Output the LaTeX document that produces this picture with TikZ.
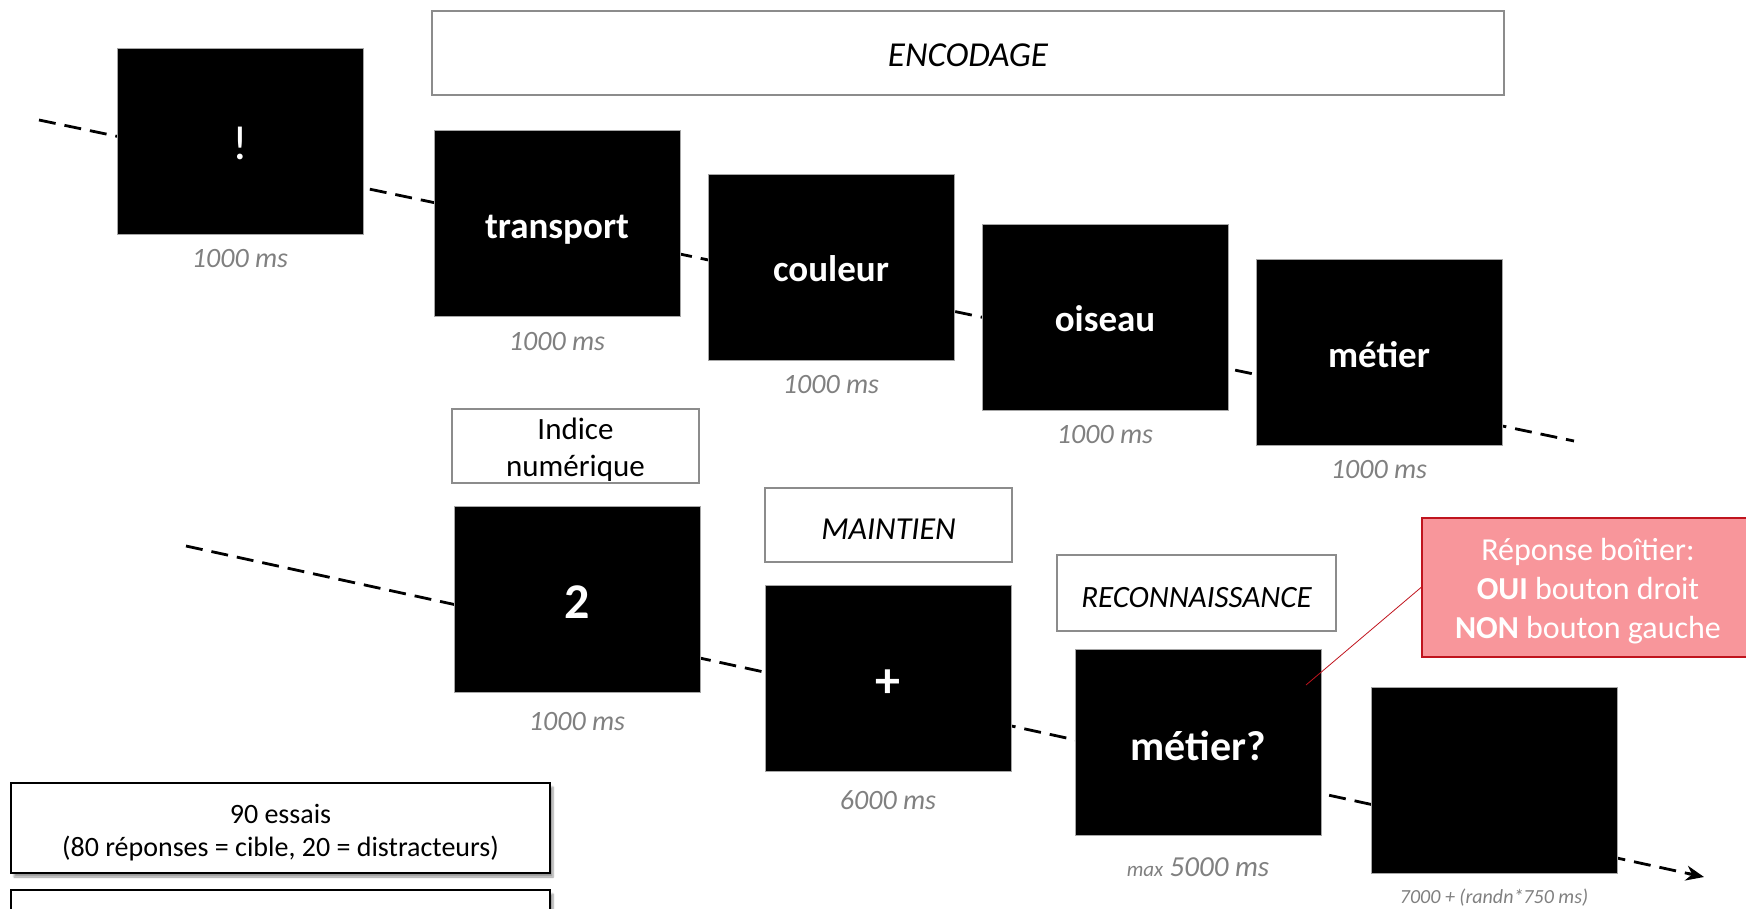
\documentclass[tikz,border=0pt]{standalone}
\usepackage{fontspec}
\setmainfont{Carlito}
\usetikzlibrary{arrows.meta,shadows.blur,calc}
\definecolor{tgray}{RGB}{128,128,128}
\definecolor{lblgray}{RGB}{140,140,140}
\definecolor{redfill}{RGB}{248,150,155}
\definecolor{redline}{RGB}{192,20,30}
\begin{document}
\begin{tikzpicture}[x=1pt,y=-1pt,
 screen/.style={rectangle, fill=black, draw=gray!70, line width=0.8pt, minimum width=246pt, minimum height=186pt, inner sep=0pt, text=white, text height=30pt, text depth=0pt, font=\fontsize{37}{44}\selectfont\bfseries},
 bigsym/.style={text height=38pt, text depth=0pt},
 timelbl/.style={anchor=north, text=tgray, font=\fontsize{28}{34}\selectfont\itshape, inner sep=0pt, yshift=-15pt},
 phase/.style={rectangle, draw=lblgray, line width=1.6pt, fill=white, inner sep=0pt, text height=28pt, text depth=0pt, font=\fontsize{32}{38}\selectfont\itshape},
 timeline/.style={line width=2.8pt, dash pattern=on 17pt off 9pt},
 infobox/.style={rectangle, draw=black, line width=1.8pt, fill=white, inner sep=0pt, blur shadow={shadow xshift=3pt, shadow yshift=-4pt, shadow blur steps=6}},
 boxtext/.style={inner sep=0pt, align=center},
]
\useasboundingbox (0,0) rectangle (1746,909);

% timelines
\coordinate (t1s) at (39,120);
\coordinate (t1e) at (1574,441);
\coordinate (t2s) at (186,546);
\coordinate (t2e) at (1704,877);
\draw[timeline] (t1s) -- (t1e);
\draw[timeline] (t2s) -- ($(t2e)!14pt!(t2s)$);
\draw[line width=2.8pt, -{Stealth[length=18pt,width=15pt]}] ($(t2e)!16pt!(t2s)$) -- (t2e);

% top row screens
\node[screen, font=\fontsize{48}{56}\selectfont, text height=37pt] (excl) at (240,141) {!};
\node[screen] (transport) at (557,223.5) {transport};
\node[screen] (couleur) at (831,267) {couleur};
\node[screen] (oiseau) at (1105,317) {oiseau};
\node[screen] (metier) at (1379,352) {métier};

\node[timelbl] (l1) at (excl.south) {1000 ms};
\node[timelbl] (l2) at (transport.south) {1000 ms};
\node[timelbl] (l3) at (couleur.south) {1000 ms};
\node[timelbl] (l4) at (oiseau.south) {1000 ms};
\node[timelbl] (l5) at (metier.south) {1000 ms};

% bottom row screens
\node[screen, font=\fontsize{50}{58}\selectfont\bfseries, bigsym] (deux) at (577,599) {2};
\node[screen, font=\fontsize{50}{58}\selectfont\bfseries, bigsym] (plus) at (888,678.5) {+};
\node[screen, font=\fontsize{42}{50}\selectfont\bfseries, text height=35pt] (metierq) at (1198,742.5) {métier?};
\node[screen] (blank) at (1494,780.5) {};

\node[timelbl, yshift=-5pt] (l6) at (deux.south) {1000 ms};
\node[timelbl, yshift=-3pt] (l7) at (plus.south) {6000 ms};
\node[timelbl, yshift=-7pt] (l8) at (metierq.south) {{\fontsize{21}{25}\selectfont max} {\fontsize{29}{34}\selectfont 5000 ms}};
\node[timelbl, font=\fontsize{20}{24}\selectfont\itshape] (l9) at (blank.south) {7000 + (randn*750 ms)};

% phase labels
\node[phase, minimum width=1072pt, minimum height=84pt, font=\fontsize{35}{42}\selectfont\itshape] (encodage) at (968,53) {ENCODAGE};
\node[phase, minimum width=247pt, minimum height=74pt] (indice) at (575.5,446) {};
\node[boxtext, font=\fontsize{31}{37}\selectfont, yshift=-4pt] (indicetxt) at (indice.center) {Indice\\numérique};
\node[phase, minimum width=247pt, minimum height=74pt] (maintien) at (888.5,525) {MAINTIEN};
\node[phase, minimum width=279pt, minimum height=76pt, font=\fontsize{31}{37}\selectfont\itshape, text height=29pt] (reconn) at (1196.5,593) {RECONNAISSANCE};

% response callout
\node[rectangle, fill=redfill, draw=redline, line width=2pt, minimum width=332pt, minimum height=139pt, inner sep=0pt] (rep) at (1588,587.5) {};
\node[boxtext, text=white, font=\fontsize{32}{38.6}\selectfont, yshift=-3.7pt] (reptxt) at (rep.center) {Réponse boîtier:\\\textbf{OUI} bouton droit\\\textbf{NON} bouton gauche};
\coordinate (cpt) at (1306,685);
\draw[redline, line width=0.8pt] (rep.west) -- (cpt);

% info boxes
\node[infobox, minimum width=539pt, minimum height=90pt] (essais) at (280.5,828) {};
\node[boxtext, font=\fontsize{28}{33.4}\selectfont, yshift=-4.5pt] (essaistxt) at (essais.center) {90 essais\\(80 réponses = cible, 20 = distracteurs)};
\node[infobox, minimum width=539pt, minimum height=90pt] (info2) at (280.5,935) {};
\end{tikzpicture}
\end{document}
